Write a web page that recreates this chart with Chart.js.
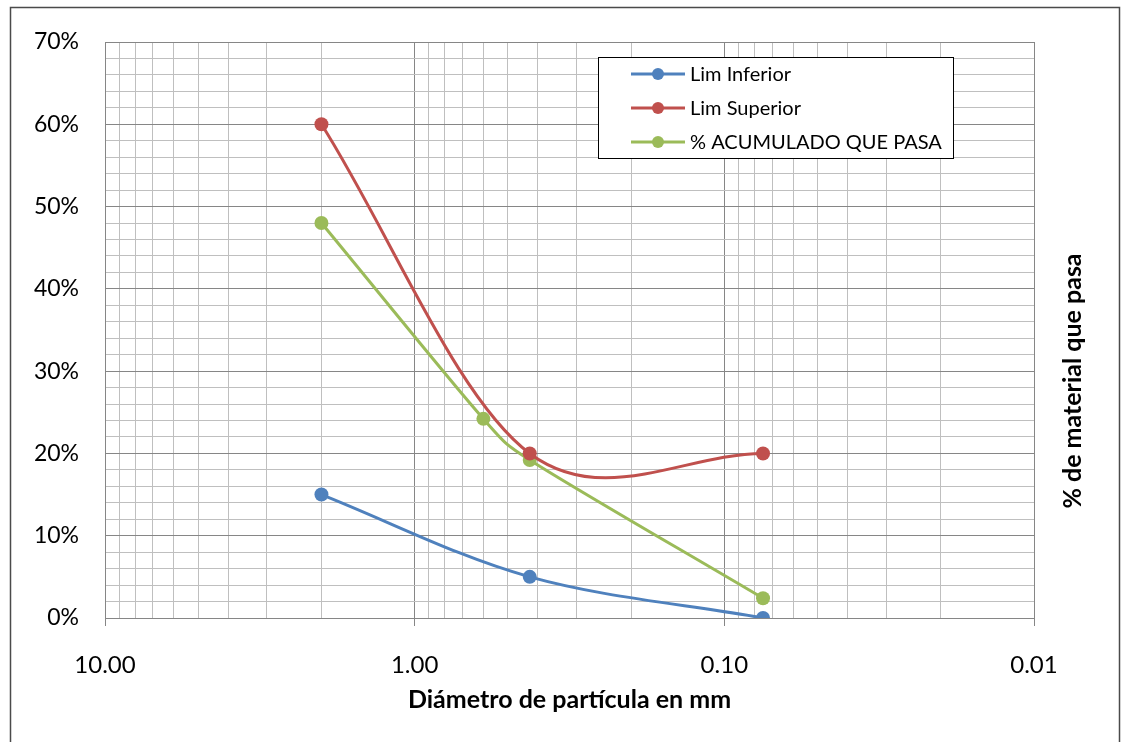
<!DOCTYPE html>
<html>
<head>
<meta charset="utf-8">
<script src="https://cdn.jsdelivr.net/npm/chart.js@4.4.1/dist/chart.umd.min.js"></script>
<style>
  html, body { margin: 0; padding: 0; background: #ffffff; }
  #wrap { width: 1123px; height: 742px; position: relative; }
</style>
</head>
<body>
<div id="wrap"><canvas id="c" width="1123" height="742"></canvas></div>
<script>
// Particle size (mm) for the specification limits and for the sample
const diamLimits = [2.0, 0.425, 0.075];
const limInferior = [15, 5, 0];
const limSuperior = [60, 20, 20];
const diamSample = [2.0, 0.6, 0.425, 0.075];
const pctPassing = [48, 24.2, 19.2, 2.4];

const seriesNames = ['Lim Inferior', 'Lim Superior', '% ACUMULADO QUE PASA'];
const seriesColors = ['#4F81BD', '#C0504D', '#9BBB59'];

const xDecades = [10, 1, 0.1, 0.01];
const xDecadeLabels = ['10.00', '1.00', '0.10', '0.01'];
const yMax = 70;
const yStep = 2;
const yLabelStep = 10;

const xTitle = 'Diámetro de partícula en mm';
const yTitle = '% de material que pasa';

const FONT = 'Lato, "Open Sans", "DejaVu Sans", sans-serif';
const MAJOR_GRID = '#868686';
const MINOR_GRID = '#BFBFBF';

function pairs(xs, ys) { return xs.map((x, i) => ({ x: x, y: ys[i] })); }

function isDecade(v) {
  const l = Math.log10(v);
  return Math.abs(l - Math.round(l)) < 1e-6;
}

function decadeLabel(v) {
  for (let i = 0; i < xDecades.length; i++) {
    if (Math.abs(xDecades[i] - v) / xDecades[i] < 1e-6) return xDecadeLabels[i];
  }
  return '';
}

function lineDataset(label, data, color) {
  return {
    label: label,
    data: data,
    borderColor: color,
    backgroundColor: color,
    borderWidth: 3,
    pointRadius: 7,
    pointHoverRadius: 7,
    pointBorderWidth: 0,
    pointBackgroundColor: color,
    tension: 0.4,
    fill: false
  };
}

// Catmull-Rom style smoothing: interior tangents span (next - prev) / 6,
// capped at half of the adjacent segment; end segments aim one third of the
// way toward their neighbour.
function scaledHandle(dx, dy, segLen) {
  const len = Math.hypot(dx, dy);
  const cap = segLen / 2;
  if (len > cap && len > 0) {
    const k = cap / len;
    return [dx * k, dy * k];
  }
  return [dx, dy];
}

const smoothPlugin = {
  id: 'smoothCurves',
  beforeDatasetsDraw(chart) {
    chart.data.datasets.forEach((ds, di) => {
      const meta = chart.getDatasetMeta(di);
      const pts = meta.data;
      const n = pts.length;
      for (let i = 0; i < n; i++) {
        const p = pts[i];
        if (i === 0) {
          const q = pts[1];
          p.cp1x = p.x; p.cp1y = p.y;
          p.cp2x = p.x + (q.x - p.x) / 3; p.cp2y = p.y + (q.y - p.y) / 3;
        } else if (i === n - 1) {
          const q = pts[i - 1];
          p.cp1x = p.x - (p.x - q.x) / 3; p.cp1y = p.y - (p.y - q.y) / 3;
          p.cp2x = p.x; p.cp2y = p.y;
        } else {
          const a = pts[i - 1], b = pts[i + 1];
          const dx = (b.x - a.x) / 6, dy = (b.y - a.y) / 6;
          const back = scaledHandle(dx, dy, Math.hypot(p.x - a.x, p.y - a.y));
          const fwd = scaledHandle(dx, dy, Math.hypot(b.x - p.x, b.y - p.y));
          p.cp1x = p.x - back[0]; p.cp1y = p.y - back[1];
          p.cp2x = p.x + fwd[0]; p.cp2y = p.y + fwd[1];
        }
      }
      if (meta.dataset) {
        meta.dataset._pointsUpdated = true;
        meta.dataset._path = undefined;
      }
    });
  }
};

// Outer frame around the whole figure
const framePlugin = {
  id: 'frame',
  beforeDraw(chart) {
    const ctx = chart.ctx;
    ctx.save();
    ctx.fillStyle = '#ffffff';
    ctx.fillRect(0, 0, chart.width, chart.height);
    ctx.strokeStyle = '#4a4a4a';
    ctx.lineWidth = 1.5;
    ctx.strokeRect(10.5, 7.5, 1109, 760);
    ctx.restore();
  }
};

// Legend box drawn inside the plot area, plus the right-hand axis title
const overlayPlugin = {
  id: 'overlay',
  afterDraw(chart) {
    const ctx = chart.ctx;
    ctx.save();

    // legend box
    const bx = 598, by = 57, bw = 355, bh = 101;
    ctx.fillStyle = '#ffffff';
    ctx.fillRect(bx, by, bw, bh);
    ctx.strokeStyle = '#000000';
    ctx.lineWidth = 1;
    ctx.strokeRect(bx + 0.5, by + 0.5, bw, bh);

    ctx.font = '20px ' + FONT;
    ctx.textBaseline = 'middle';
    ctx.textAlign = 'left';
    chart.data.datasets.forEach((ds, i) => {
      const cy = by + 17 + i * 34;
      ctx.strokeStyle = ds.borderColor;
      ctx.lineWidth = 3;
      ctx.beginPath();
      ctx.moveTo(631, cy);
      ctx.lineTo(685, cy);
      ctx.stroke();
      ctx.fillStyle = ds.borderColor;
      ctx.beginPath();
      ctx.arc(658, cy, 6, 0, Math.PI * 2);
      ctx.fill();
      ctx.fillStyle = '#000000';
      ctx.fillText(ds.label, 690, cy + 1);
    });

    // right-hand axis title, reading upward
    ctx.translate(1073, 381);
    ctx.rotate(-Math.PI / 2);
    ctx.font = 'bold 25px ' + FONT;
    ctx.textAlign = 'center';
    ctx.textBaseline = 'middle';
    ctx.fillStyle = '#000000';
    ctx.fillText(yTitle, 0, 0);
    ctx.restore();
  }
};

const chart = new Chart(document.getElementById('c'), {
  type: 'line',
  data: {
    datasets: [
      lineDataset(seriesNames[0], pairs(diamLimits, limInferior), seriesColors[0]),
      lineDataset(seriesNames[1], pairs(diamLimits, limSuperior), seriesColors[1]),
      lineDataset(seriesNames[2], pairs(diamSample, pctPassing), seriesColors[2])
    ]
  },
  options: {
    responsive: false,
    animation: false,
    devicePixelRatio: 1,
    layout: { padding: { left: 10, top: 42, right: 89, bottom: 0 } },
    plugins: {
      legend: { display: false },
      tooltip: { enabled: false }
    },
    scales: {
      x: {
        type: 'logarithmic',
        reverse: true,
        min: 0.01,
        max: 10,
        afterBuildTicks(scale) {
          const t = [];
          for (let e = 1; e >= -2; e--) {
            const base = Math.pow(10, e - 1);
            t.push({ value: Math.pow(10, e) });
            if (e > -2) {
              for (let m = 9; m >= 2; m--) t.push({ value: m * base });
            }
          }
          scale.ticks = t.sort((a, b) => a.value - b.value);
        },
        afterFit(scale) { scale.height = 124; },
        ticks: {
          autoSkip: false,
          maxRotation: 0,
          minRotation: 0,
          padding: 25,
          color: '#000000',
          font: { family: FONT, size: 24 },
          callback(v) { return decadeLabel(v); }
        },
        grid: {
          drawTicks: true,
          tickLength: 8,
          lineWidth: 1,
          color(ctx) { return ctx.tick && isDecade(ctx.tick.value) ? MAJOR_GRID : MINOR_GRID; },
          tickColor(ctx) { return ctx.tick && isDecade(ctx.tick.value) ? MAJOR_GRID : 'rgba(0,0,0,0)'; }
        },
        border: { display: true, color: MAJOR_GRID, width: 1 },
        title: {
          display: true,
          text: xTitle,
          color: '#000000',
          font: { family: FONT, size: 25, weight: 'bold' },
          padding: { top: 0, bottom: 27 }
        }
      },
      y: {
        type: 'linear',
        position: 'left',
        min: 0,
        max: yMax,
        afterFit(scale) { scale.width = 95; },
        ticks: {
          stepSize: yStep,
          autoSkip: false,
          padding: 26,
          color: '#000000',
          font: { family: FONT, size: 23 },
          callback(v) { return v % yLabelStep === 0 ? v + '%' : ''; }
        },
        grid: {
          drawTicks: false,
          lineWidth: 1,
          color(ctx) { return ctx.tick && ctx.tick.value % yLabelStep === 0 ? MAJOR_GRID : MINOR_GRID; }
        },
        border: { display: true, color: MAJOR_GRID, width: 1 }
      }
    }
  },
  plugins: [framePlugin, smoothPlugin, overlayPlugin]
});
</script>
</body>
</html>
